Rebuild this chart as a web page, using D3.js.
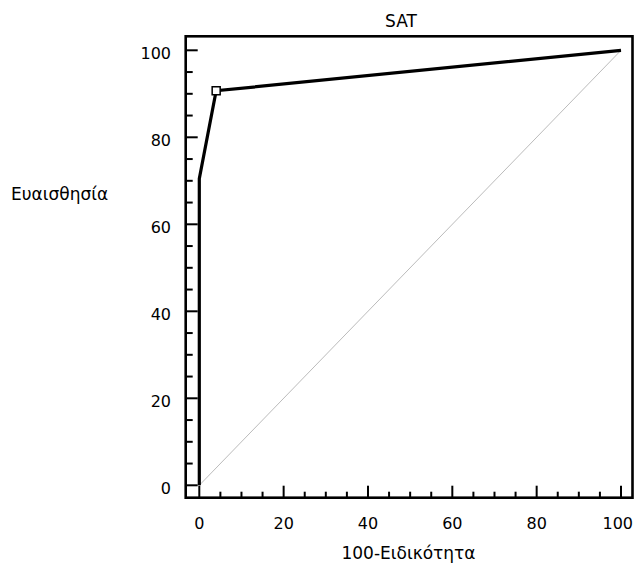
<!DOCTYPE html>
<html><head><meta charset="utf-8">
<script src="https://cdn.jsdelivr.net/npm/d3@7"></script>
<style>
body{margin:0;background:#fff;}
text{font-family:"DejaVu Sans",sans-serif;fill:#000;}
</style></head>
<body>
<svg id="chart" width="634" height="566"></svg>
<script>
const title = "SAT";
const xTitle = "100-Ειδικότητα";
const yTitle = "Ευαισθησία";
const rocX = [0, 0, 4, 100];
const rocY = [0, 70.5, 90.7, 100];
const cutX = [4];
const cutY = [90.7];
const diagX = [0, 100];
const diagY = [0, 100];
const majorTicks = [0, 20, 40, 60, 80, 100];
const minorTicks = [5,10,15,25,30,35,45,50,55,65,70,75,85,90,95];

const svg = d3.select("#chart");
const x = d3.scaleLinear().domain([0,100]).range([199.3, 621]);
const y = d3.scaleLinear().domain([0,100]).range([485.3, 50.3]);
const frame = {l:185.7, t:36.3, r:632.5, b:497.7};

// diagonal
svg.append("path")
  .datum(diagX.map((d,i)=>[d, diagY[i]]))
  .attr("d", d3.line().x(d=>x(d[0])).y(d=>y(d[1])))
  .attr("fill","none").attr("stroke","#aaa").attr("stroke-width",0.8);

// ticks
const tg = svg.append("g");
majorTicks.forEach(v=>{
  tg.append("line").attr("x1",frame.l).attr("x2",frame.l+12).attr("y1",y(v)).attr("y2",y(v));
  tg.append("line").attr("y1",frame.b).attr("y2",frame.b-12).attr("x1",x(v)).attr("x2",x(v));
});
minorTicks.forEach(v=>{
  tg.append("line").attr("x1",frame.l).attr("x2",frame.l+7).attr("y1",y(v)).attr("y2",y(v));
  tg.append("line").attr("y1",frame.b).attr("y2",frame.b-6).attr("x1",x(v)).attr("x2",x(v));
});
tg.selectAll("line").attr("stroke","#000").attr("stroke-width",2);

// frame
svg.append("rect").attr("x",frame.l).attr("y",frame.t)
  .attr("width",frame.r-frame.l).attr("height",frame.b-frame.t)
  .attr("fill","none").attr("stroke","#000").attr("stroke-width",2.6);

// ROC line
svg.append("path")
  .datum(rocX.map((d,i)=>[d, rocY[i]]))
  .attr("d", d3.line().x(d=>x(d[0])).y(d=>y(d[1])))
  .attr("fill","none").attr("stroke","#000").attr("stroke-width",3.2).attr("stroke-linejoin","miter");

// marker
svg.selectAll("rect.m").data(cutX.map((d,i)=>[d,cutY[i]])).enter().append("rect")
  .attr("class","m").attr("x",d=>x(d[0])-4).attr("y",d=>y(d[1])-4)
  .attr("width",8).attr("height",8).attr("fill","#fff").attr("stroke","#000").attr("stroke-width",1.5);

// labels
const fs = 16;
majorTicks.forEach(v=>{
  svg.append("text").attr("x",171).attr("y",y(v)+9).attr("text-anchor","end")
    .attr("font-size",fs).text(v);
  const t = svg.append("text").attr("x",x(v)).attr("y",529).attr("text-anchor","middle")
    .attr("font-size",fs).text(v);
  const w = t.node().getComputedTextLength();
  if (x(v) + w/2 > 633) t.attr("x", 633).attr("text-anchor","end");
});
const tfs = 17;
svg.append("text").attr("x",401).attr("y",27).attr("text-anchor","middle").attr("font-size",tfs).text(title);
svg.append("text").attr("x",408.5).attr("y",559).attr("text-anchor","middle").attr("font-size",tfs).text(xTitle);
svg.append("text").attr("x",11).attr("y",200).attr("text-anchor","start").attr("font-size",tfs).text(yTitle);
</script>
</body></html>
